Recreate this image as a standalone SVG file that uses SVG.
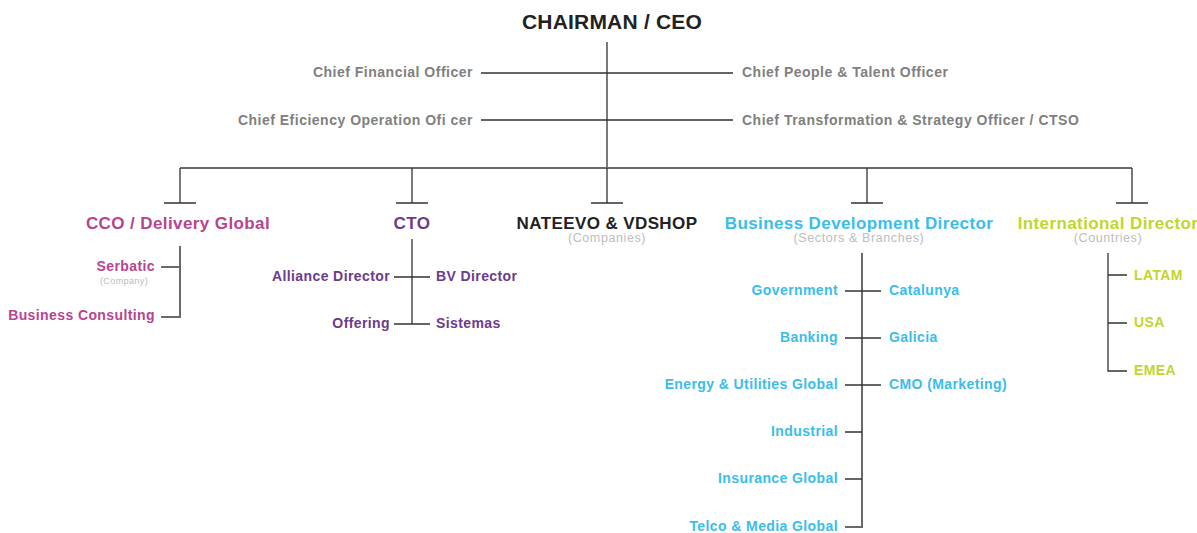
<svg xmlns="http://www.w3.org/2000/svg" width="1197" height="533" viewBox="0 0 1197 533">
<style>
text{font-family:"Liberation Sans",Arial,sans-serif;font-weight:bold}
.top{font-size:21px;fill:#222;letter-spacing:0.2px}
.chief{font-size:14px;fill:#808080;letter-spacing:0.5px}
.l2{font-size:17px;letter-spacing:0.4px}
.sub{font-size:12.5px;font-weight:normal;fill:#bdbdbd;letter-spacing:0.6px}
.tiny{font-size:9px;font-weight:normal;fill:#bdbdbd;letter-spacing:0.4px}
.it{font-size:14px;letter-spacing:0.4px}
.mag{fill:#b8448f}
.pur{fill:#6c3b8c}
.blk{fill:#222}
.blu{fill:#3bbdec}
.grn{fill:#c3d52b}
.e{text-anchor:end}
.m{text-anchor:middle}
.ln{stroke:#333;stroke-width:1.3;fill:none}
.ln2{stroke:#6a6a6a;stroke-width:2;fill:none}
</style>
<rect width="1197" height="533" fill="#fff"/>
<g id="connectors">
<path class="ln" d="M607 42V168M481 73H733M481 120H733"/>
<path class="ln2" d="M180 168H1132"/>
<path class="ln" d="M180 168V203M164 203H196M412 168V203M396 203H428M607 168V203M591 203H623M867 168V203M851 203H883M1132 168V203M1116 203H1148"/>
<path class="ln2" d="M180 246V317H161M161 267H180"/>
<path class="ln" d="M412 239V324M394 277H430M394 324H430"/>
<path class="ln2" d="M862 253V527H845"/>
<path class="ln" d="M845 291H881M845 338H881M845 385H881M845 432H862M845 479H862"/>
<path class="ln" d="M1108 253V371H1127M1108 275H1127M1108 323H1127"/>
</g>
<g id="ceo"><text class="top m" x="612" y="29">CHAIRMAN / CEO</text></g>
<g id="cfo"><text class="chief e" x="473" y="77">Chief Financial Officer</text></g>
<g id="ceoo"><text class="chief e" x="473" y="125">Chief Eficiency Operation Ofi cer</text></g>
<g id="cpto"><text class="chief" x="742" y="77">Chief People &amp; Talent Officer</text></g>
<g id="ctso"><text class="chief" x="742" y="125">Chief Transformation &amp; Strategy Officer / CTSO</text></g>
<g id="cco"><text class="l2 mag m" x="178" y="229">CCO / Delivery Global</text></g>
<g id="serbatic"><text class="it mag e" x="155" y="271">Serbatic</text><text class="tiny m" x="124" y="284">(Company)</text></g>
<g id="bc"><text class="it mag e" x="155" y="320">Business Consulting</text></g>
<g id="cto"><text class="l2 pur m" x="412" y="229">CTO</text></g>
<g id="alliance"><text class="it pur e" x="390" y="281">Alliance Director</text></g>
<g id="bv"><text class="it pur" x="436" y="281">BV Director</text></g>
<g id="offering"><text class="it pur e" x="390" y="328">Offering</text></g>
<g id="sistemas"><text class="it pur" x="436" y="328">Sistemas</text></g>
<g id="nateevo"><text class="l2 blk m" x="607" y="229">NATEEVO &amp; VDSHOP</text><text class="sub m" x="607" y="242">(Companies)</text></g>
<g id="bdd"><text class="l2 blu m" x="859" y="229">Business Development Director</text><text class="sub m" x="859" y="242">(Sectors &amp; Branches)</text></g>
<g id="gov"><text class="it blu e" x="838" y="295">Government</text></g>
<g id="cat"><text class="it blu" x="889" y="295">Catalunya</text></g>
<g id="bank"><text class="it blu e" x="838" y="342">Banking</text></g>
<g id="gal"><text class="it blu" x="889" y="342">Galicia</text></g>
<g id="energy"><text class="it blu e" x="838" y="389">Energy &amp; Utilities Global</text></g>
<g id="cmo"><text class="it blu" x="889" y="389">CMO (Marketing)</text></g>
<g id="ind"><text class="it blu e" x="838" y="436">Industrial</text></g>
<g id="ins"><text class="it blu e" x="838" y="483">Insurance Global</text></g>
<g id="telco"><text class="it blu e" x="838" y="531">Telco &amp; Media Global</text></g>
<g id="intl"><text class="l2 grn m" x="1108" y="229">International Director</text><text class="sub m" x="1108" y="242">(Countries)</text></g>
<g id="latam"><text class="it grn" x="1134" y="280">LATAM</text></g>
<g id="usa"><text class="it grn" x="1134" y="327">USA</text></g>
<g id="emea"><text class="it grn" x="1134" y="375">EMEA</text></g>
</svg>
